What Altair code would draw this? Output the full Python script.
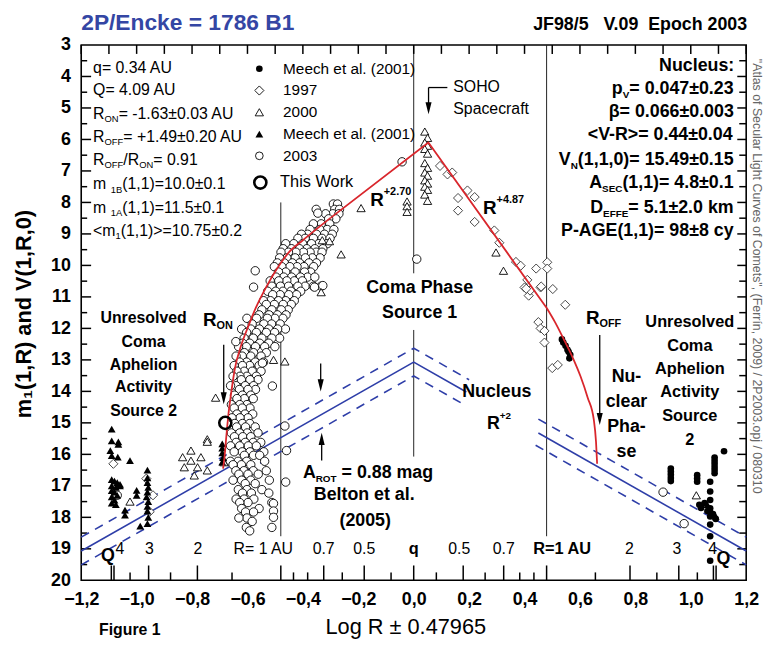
import math
import altair as alt
import pandas as pd

# ---------------- values ----------------
XTICKS = [-1.2, -1.0, -0.8, -0.6, -0.4, -0.2, 0.0, 0.2, 0.4, 0.6, 0.8, 1.0, 1.2]
YTICKS = list(range(3, 21))

# 2003 observations (small open circles): one row per magnitude level
c2003_mag = [8.05, 8.22, 8.36, 8.52, 8.68, 8.86, 9.01, 9.14, 9.31, 9.47, 9.58, 9.76, 9.92, 10.04,
             10.21, 10.37, 10.49, 10.66, 10.82, 10.93, 11.12, 11.24, 11.41, 11.57, 11.68, 11.86,
             12.02, 12.13, 12.31, 12.47, 12.58, 12.77, 12.88, 13.07, 13.18, 13.36, 13.52, 13.63,
             13.82, 13.94, 14.12, 14.23, 14.42, 14.53, 14.72, 14.84, 15.02, 15.13, 15.32, 15.44,
             15.62, 15.73, 15.92, 16.03, 16.22, 16.33, 16.52, 16.63, 16.82, 16.93, 17.12, 17.23,
             17.42, 17.53, 17.72, 17.83, 18.02, 18.13, 18.32, 18.43]
c2003_logr = [
    [-0.29, -0.275], [-0.285, -0.268, -0.352], [-0.292, -0.27, -0.318], [-0.281, -0.307],
    [-0.303, -0.334, -0.362], [-0.312, -0.339, -0.374, -0.288], [-0.322, -0.351, -0.383, -0.405, -0.294],
    [-0.331, -0.362, -0.392, -0.418, -0.302], [-0.343, -0.369, -0.401, -0.433, -0.462, -0.312],
    [-0.328, -0.357, -0.386, -0.412, -0.441, -0.471], [-0.352, -0.374, -0.398, -0.425, -0.452, -0.479, -0.331],
    [-0.338, -0.366, -0.391, -0.428, -0.458, -0.484], [-0.351, -0.378, -0.412, -0.438, -0.467, -0.492],
    [-0.361, -0.396, -0.421, -0.447, -0.476, -0.503], [-0.372, -0.394, -0.428, -0.462, -0.488],
    [-0.383, -0.409, -0.441, -0.469, -0.497, -0.357], [-0.402, -0.431, -0.458, -0.487, -0.518],
    [-0.392, -0.418, -0.452, -0.481, -0.512, -0.362, -0.334], [-0.408, -0.443, -0.472, -0.498, -0.527],
    [-0.423, -0.451, -0.482, -0.509], [-0.431, -0.462, -0.488, -0.517, -0.542], [-0.442, -0.471, -0.503, -0.532],
    [-0.453, -0.478, -0.512, -0.548], [-0.461, -0.492, -0.522, -0.558], [-0.472, -0.501, -0.528, -0.567, -0.602],
    [-0.482, -0.513, -0.541, -0.583], [-0.463, -0.491, -0.523, -0.557, -0.588, -0.621],
    [-0.502, -0.532, -0.568, -0.603], [-0.484, -0.512, -0.548, -0.579, -0.612], [-0.523, -0.556, -0.592, -0.618],
    [-0.501, -0.538, -0.571, -0.604, -0.632], [-0.532, -0.578, -0.611], [-0.551, -0.588, -0.619, -0.641],
    [-0.542, -0.572, -0.603, -0.628], [-0.558, -0.592, -0.618, -0.648], [-0.551, -0.583, -0.612, -0.638],
    [-0.568, -0.602, -0.627, -0.652], [-0.562, -0.591, -0.622], [-0.578, -0.608, -0.641, -0.661],
    [-0.571, -0.598, -0.629], [-0.588, -0.618, -0.647], [-0.579, -0.611, -0.638], [-0.602, -0.628, -0.658],
    [-0.591, -0.619, -0.648], [-0.609, -0.638, -0.581], [-0.598, -0.627, -0.656], [-0.618, -0.592, -0.646],
    [-0.607, -0.639, -0.572], [-0.601, -0.628, -0.658, -0.562], [-0.617, -0.588, -0.647],
    [-0.608, -0.641, -0.579, -0.552], [-0.597, -0.628, -0.661, -0.568], [-0.619, -0.591, -0.648, -0.541],
    [-0.611, -0.578, -0.556], [-0.603, -0.634, -0.662, -0.538], [-0.622, -0.652, -0.588],
    [-0.613, -0.642, -0.579, -0.532], [-0.598, -0.631, -0.561], [-0.621, -0.652, -0.588, -0.521],
    [-0.608, -0.572], [-0.602, -0.633, -0.548], [-0.618, -0.586, -0.523],
    [-0.612, -0.641, -0.577], [-0.598, -0.628, -0.512], [-0.621, -0.558],
    [-0.607, -0.578], [-0.602, -0.631], [-0.583], [-0.604, -0.512], [-0.592]]
c2003_extra_x = [-0.465, -0.459, -0.462, -0.572, -0.578, -0.346, -0.042, 0.011, -0.506, -0.506,
                 -0.506, 0.90, 0.976, -1.07, -0.642, -0.546, -0.51, -0.358, -0.328]
c2003_extra_y = [15.1, 15.88, 16.88, 10.17, 10.69, 8.34, 6.71, 9.8, 17.56, 17.8, 18.0, 17.2,
                 18.2, 17.3, 12.42, 13.1, 13.83, 10.69, 10.64]

# 1997 (open diamonds)
d1997_x = [0.095, 0.122, 0.139, 0.16, 0.16, 0.194, 0.22, 0.22, 0.291, 0.309, 0.369, 0.386, 0.41,
           0.40, 0.415, 0.42, 0.442, 0.458, 0.482, 0.482, 0.502, 0.547, 0.45, 0.458, 0.472, 0.472,
           0.50, 0.52, 0.406, 0.46, -1.084, -0.965, -0.941, -0.953]
d1997_y = [6.84, 7.11, 7.05, 7.86, 8.26, 7.62, 7.83, 8.62, 8.89, 9.28, 9.89, 10.01, 10.46, 10.7,
           10.96, 10.8, 10.1, 10.7, 9.9, 10.1, 10.75, 11.25, 11.8, 12.0, 12.08, 12.45, 13.26, 13.16,
           10.74, 10.67, 16.3, 16.77, 17.3, 17.82]

# 2000 (open triangles)
t2000_x = [0.04, 0.05, 0.04, 0.05, 0.04, 0.05, 0.04, 0.05, 0.04, 0.05, 0.04, 0.05, 0.04, 0.05,
           0.04, 0.05, -0.024, -0.024, -0.024, 0.297, 0.324, -0.19, -0.262, -0.304, -0.334, -0.33,
           -0.506, -0.465, -0.715, -0.745, -0.745, -0.804, -0.834, -0.768, -0.804, -0.828, -0.78,
           -0.745, -0.792, -0.685, -1.024, 1.02]
t2000_y = [5.75, 5.95, 6.1, 6.2, 6.3, 6.45, 6.75, 6.9, 7.05, 7.15, 7.3, 7.4, 7.5, 7.6, 7.75, 7.95,
           7.97, 8.12, 8.3, 9.59, 10.17, 8.18, 9.65, 9.23, 10.85, 9.2, 13.0, 13.05, 14.2, 15.52,
           15.6, 15.88, 16.09, 16.09, 16.2, 16.41, 16.41, 16.51, 16.67, 16.25, 17.5, 17.3]

# Meech et al. (2001), filled triangles
mtri_x = [-1.09, -1.09, -1.066, -1.066, -1.095, -1.068, -1.024, -1.09, -1.09, -1.08, -1.07, -1.09,
          -1.075, -1.09, -1.08, -1.07, -1.09, -1.08, -1.09, -1.075, -1.06, -1.06, -0.961, -0.961,
          -0.961, -0.958, -0.961, -0.964, -0.958, -0.961, -0.961, -0.958, -0.961, -1.0, -1.0,
          -1.042, -1.042, -0.987, -0.691, -0.691, -0.691, -0.688, -0.691, 1.06, 1.09, 1.075]
mtri_y = [15.2, 15.57, 15.6, 15.68, 15.88, 16.09, 16.2, 16.04, 16.8, 16.85, 16.9, 17.0, 17.05, 17.15,
          17.2, 17.3, 17.35, 17.45, 17.55, 17.6, 17.0, 16.95, 16.5, 16.75, 16.9, 17.05, 17.2, 17.35,
          17.5, 17.65, 17.8, 18.0, 18.2, 17.14, 17.3, 17.77, 17.93, 18.28, 15.67, 15.8, 15.95, 16.1,
          16.25, 17.6, 17.97, 17.8]

# Meech et al. (2001), filled circles
mdot_x = [0.535, 0.54, 0.548, 0.555, 0.559, 0.565, 0.562, 0.928, 0.928, 0.928, 0.928, 0.928, 1.023,
          1.023, 1.023, 1.031, 1.037, 1.086, 1.086, 1.086, 1.086, 1.086, 1.086, 1.07, 1.07, 1.07,
          1.07, 1.07, 1.07, 1.07, 1.07, 1.05, 1.06, 1.08, 1.09, 1.12]
mdot_y = [12.35, 12.45, 12.55, 12.68, 12.74, 12.84, 12.95, 16.45, 16.55, 16.65, 16.75, 16.85, 16.66,
          16.77, 16.87, 17.6, 17.7, 16.1, 16.2, 16.3, 16.4, 16.5, 16.6, 16.87, 17.18, 17.45, 17.71,
          17.97, 18.23, 18.6, 19.38, 17.55, 17.8, 17.9, 18.05, 15.9]

this_work_x = [-0.68]
this_work_y = [15.0]

# fitted envelope (red) and nucleus line (blue) vertices
red_left_x = [-0.688, -0.683, -0.676, -0.669, -0.658, -0.646, -0.625, -0.600, -0.570, -0.530,
              -0.493, -0.45, -0.40, -0.35, -0.30]
red_left_y = [16.45, 16.1, 15.4, 14.75, 14.0, 13.3, 12.6, 12.0, 11.35, 10.65, 10.1, 9.58, 9.2,
              8.84, 8.49]
red_mid_x = [-0.30, 0.053, 0.48]
red_mid_y = [8.49, 6.10, 11.35]
red_right_x = [0.48, 0.51, 0.543, 0.575, 0.602, 0.628, 0.65, 0.658, 0.662]
red_right_y = [11.35, 11.8, 12.37, 12.95, 13.52, 14.2, 14.9, 15.6, 16.3]

nuc_seg = ["a", "a", "a", "b", "b"]
nuc_x = [-1.2, 0.0, 0.19, 0.45, 1.2]
nuc_y = [19.07, 13.07, 14.02, 15.32, 19.07]
nuc_up_x = [-1.2, 0.0, 0.20, 0.45, 1.2]
nuc_up_y = [18.63, 12.63, 13.63, 14.88, 18.63]
nuc_lo_x = [-1.2, 0.0, 0.19, 0.44, 1.2]
nuc_lo_y = [19.51, 13.51, 14.46, 15.71, 19.51]

# vertical reference lines: (log R, top mag, bottom mag)
ref_x = [-0.47965, 0.0, 0.0, 0.47965]
ref_top = [8.0, 3.0, 12.05, 3.0]
ref_bot = [18.6, 10.25, 16.07, 18.6]

# heliocentric-distance scale along the bottom
R_long = [4.0, 3.0, 2.0, 1.0, 0.7, 0.5, 4.09]
R_short = [3.5, 2.5, 1.5, 0.9, 0.8, 0.6, 0.4]
LOGQ = 0.47965

# texts
TITLE = "2P/Encke = 1786 B1"
CODE = "JF98/5\u00a0\u00a0\u00a0V.09\u00a0\u00a0Epoch 2003"
LEFT_BLOCK = [
    [("q= 0.34 AU", "n")],
    [("Q= 4.09 AU", "n")],
    [("R", "n"), ("ON", "sub"), ("= -1.63±0.03 AU", "n")],
    [("R", "n"), ("OFF", "sub"), ("= +1.49±0.20 AU", "n")],
    [("R", "n"), ("OFF", "sub"), ("/R", "n"), ("ON", "sub"), ("= 0.91", "n")],
    [("m ", "n"), ("1B", "sub"), ("(1,1)=10.0±0.1", "n")],
    [("m ", "n"), ("1A", "sub"), ("(1,1)=11.5±0.1", "n")],
    [("<m", "n"), ("1", "sub"), ("(1,1)>=10.75±0.2", "n")],
]
RIGHT_BLOCK = [
    [("Nucleus:", "n")],
    [("p", "n"), ("V", "sub"), ("= 0.047±0.23", "n")],
    [("β= 0.066±0.003", "n")],
    [("<V-R>= 0.44±0.04", "n")],
    [("V", "n"), ("N", "sub"), ("(1,1,0)= 15.49±0.15", "n")],
    [("A", "n"), ("SEC", "sub"), ("(1,1)= 4.8±0.1", "n")],
    [("D", "n"), ("EFFE", "sub"), ("= 5.1±2.0 km", "n")],
    [("P-AGE(1,1)= 98±8 cy", "n")],
]
LEGEND = ["Meech et al. (2001)", "1997", "2000", "Meech et al. (2001)", "2003", "This Work"]
UNRES_L = ["Unresolved", "Coma", "Aphelion", "Activity", "Source 2"]
UNRES_R = ["Unresolved", "Coma", "Aphelion", "Activity", "Source", "2"]
NUCLEAR = ["Nu-", "clear", "Pha-", "se"]
SIDE = "\"Atlas of Secular Light Curves of Comets\", (Ferrín, 2009) / 2P2003.opj / 080310"

# ---------------- layout / style ----------------
LEFT, TOP, W, H = 82, 42, 672, 541
FONT = "Liberation Sans, Arial, Helvetica, sans-serif"
NARROW = "Liberation Sans Narrow, Arial Narrow, Liberation Sans, sans-serif"
BLUE = "#2e3ea8"
RED = "#d9262c"

REG_W = {' ': .278, '"': .355, '(': .333, ')': .333, '+': .584, ',': .278, '-': .333, '.': .278,
         '/': .278, ':': .278, '<': .584, '=': .584, '>': .584, '±': .584, 'β': .575,
         'A': .667, 'B': .667, 'C': .722, 'D': .722, 'E': .667, 'F': .611, 'N': .722, 'O': .778,
         'P': .667, 'Q': .778, 'R': .722, 'S': .667, 'T': .611, 'U': .722, 'V': .667,
         'a': .556, 'c': .5, 'e': .556, 'f': .278, 'g': .556, 'i': .222, 'k': .5, 'l': .222,
         'm': .833, 'r': .333, 's': .5, 't': .278, 'v': .5, 'y': .5}
BOLD_W = {' ': .278, '(': .333, ')': .333, '+': .584, ',': .278, '-': .333, '.': .278, '/': .278,
          ':': .333, '<': .584, '=': .584, '>': .584, '±': .584, 'β': .6,
          'A': .722, 'B': .722, 'C': .722, 'D': .722, 'E': .667, 'F': .611, 'G': .778, 'N': .722,
          'O': .778, 'P': .667, 'R': .722, 'S': .667, 'T': .611, 'V': .667,
          'a': .556, 'c': .556, 'e': .556, 'g': .611, 'k': .556, 'l': .278, 'm': .889, 'p': .611,
          'r': .389, 's': .556, 'u': .611, 'y': .556}


def tw(s, size, bold):
    tab = BOLD_W if bold else REG_W
    return size * sum(tab.get(ch, 0.556) for ch in s)


XS = alt.Scale(domain=[-1.2, 1.2], nice=False, zero=False)
YS = alt.Scale(domain=[3, 20], reverse=True, nice=False, zero=False)
XAX = alt.Axis(values=XTICKS, labelExpr="replace(format(datum.value, '.1f'), '.', ',')",
               ticks=False, domain=False, grid=False, title=None, labelFont=NARROW,
               labelFontSize=18, labelFontWeight="bold", labelColor="black", labelPadding=10,
               labelFlush=False, labelOverlap=False)
YAX = alt.Axis(values=YTICKS, ticks=False, domain=False, grid=False, title=None, labelFont=FONT,
               labelFontSize=18, labelFontWeight="bold", labelColor="black", labelPadding=11,
               labelOverlap=False)


def X(f="x"):
    return alt.X(f"{f}:Q", scale=XS, axis=XAX)


def Y(f="y"):
    return alt.Y(f"{f}:Q", scale=YS, axis=YAX)


def text_layer(rows, size, bold=False, align="left", color="black", font=FONT, angle=0):
    df = pd.DataFrame(rows, columns=["t", "px", "py"])
    df["px"] = df["px"] - LEFT
    df["py"] = df["py"] - TOP
    kw = dict(align=align, baseline="middle", fontSize=size,
              fontWeight="bold" if bold else "normal", color=color, font=font)
    if angle:
        kw["angle"] = angle
    return alt.Chart(df).mark_text(**kw).encode(
        x=alt.X("px:Q", scale=None, axis=None), y=alt.Y("py:Q", scale=None, axis=None), text="t:N")


def rich(lines, Xp, Ys, size, bold, align, subsize):
    normal, small = [], []
    for parts, Yp in zip(lines, Ys):
        widths = [tw(t, size if k == "n" else subsize, bold) for t, k in parts]
        total = sum(widths)
        x0 = Xp if align == "left" else (Xp - total if align == "right" else Xp - total / 2)
        for (t, k), w in zip(parts, widths):
            lead = len(t) - len(t.lstrip(" "))
            s = t.strip(" ")
            xs = x0 + tw(" " * lead, size if k == "n" else subsize, bold)
            if k == "n":
                normal.append((s, xs, Yp))
            elif k == "sub":
                small.append((s, xs, Yp + 0.33 * size))
            else:
                small.append((s, xs, Yp - 0.42 * size))
            x0 += w
    out = [text_layer(normal, size, bold)]
    if small:
        out.append(text_layer(small, subsize, bold))
    return out


def pts(xs, ys, shape, size, filled, stroke="black", sw=0.9, fill="white"):
    df = pd.DataFrame({"x": xs, "y": ys})
    if filled:
        m = alt.Chart(df).mark_point(shape=shape, size=size, filled=True, color=stroke, opacity=1)
    else:
        m = alt.Chart(df).mark_point(shape=shape, size=size, filled=True, fill=fill,
                                     stroke=stroke, strokeWidth=sw, opacity=1, fillOpacity=1)
    return m.encode(x=X(), y=Y())


def px_point(Xp, Yp, shape, size, filled, sw=0.9, fill="white"):
    df = pd.DataFrame({"px": [Xp - LEFT], "py": [Yp - TOP]})
    if filled:
        m = alt.Chart(df).mark_point(shape=shape, size=size, filled=True, color="black", opacity=1)
    else:
        m = alt.Chart(df).mark_point(shape=shape, size=size, filled=True, fill=fill, stroke="black",
                                     strokeWidth=sw, opacity=1, fillOpacity=1)
    return m.encode(x=alt.X("px:Q", scale=None, axis=None), y=alt.Y("py:Q", scale=None, axis=None))


def px_rule(x1, y1, x2, y2, sw=1.3):
    df = pd.DataFrame({"a": [x1 - LEFT], "b": [y1 - TOP], "c": [x2 - LEFT], "d": [y2 - TOP]})
    return alt.Chart(df).mark_rule(color="black", strokeWidth=sw).encode(
        x=alt.X("a:Q", scale=None, axis=None), y=alt.Y("b:Q", scale=None, axis=None),
        x2="c:Q", y2="d:Q")


def line(xs, ys, color, dash=None, interp="linear", sw=1.6, seg=None):
    df = pd.DataFrame({"x": xs, "y": ys, "i": list(range(len(xs)))})
    kw = dict(color=color, strokeWidth=sw, interpolate=interp)
    if dash:
        kw["strokeDash"] = dash
    enc = dict(x=X(), y=Y(), order="i:Q")
    if seg is not None:
        df["s"] = seg
        enc["detail"] = "s:N"
    return alt.Chart(df).mark_line(**kw).encode(**enc)


ARROW_DOWN = "M -0.5 -1 L 0.5 -1 L 0 1 Z"
ARROW_UP = "M -0.5 1 L 0.5 1 L 0 -1 Z"

layers = []

# reference vertical lines
refs = pd.DataFrame({"x": ref_x, "y": ref_top, "y2": ref_bot})
layers.append(alt.Chart(refs).mark_rule(color="#222", strokeWidth=1).encode(x=X(), y=Y(), y2="y2:Q"))

# axis ticks (inward)
top_ticks = pd.DataFrame({"x": [round(-1.2 + 0.1 * k, 2) for k in range(25)]})
layers.append(alt.Chart(top_ticks).mark_rule(color="black", strokeWidth=1.5).encode(
    x=X(), y=alt.value(0), y2=alt.value(9)))
maj = pd.DataFrame({"y": [float(v) for v in range(4, 20)]})
mnr = pd.DataFrame({"y": [v + 0.5 for v in range(3, 20)]})
layers.append(alt.Chart(maj).mark_rule(color="black", strokeWidth=1.5).encode(
    y=Y(), x=alt.value(0), x2=alt.value(10)))
layers.append(alt.Chart(mnr).mark_rule(color="black", strokeWidth=1.5).encode(
    y=Y(), x=alt.value(0), x2=alt.value(6)))
layers.append(alt.Chart(maj).mark_rule(color="black", strokeWidth=1.5).encode(
    y=Y(), x=alt.value(W), x2=alt.value(W - 9)))
layers.append(alt.Chart(mnr).mark_rule(color="black", strokeWidth=1.5).encode(
    y=Y(), x=alt.value(W), x2=alt.value(W - 7)))
long_x = [s * (math.log10(r) + LOGQ) for r in R_long for s in (-1, 1)] + [0.0]
short_x = [s * (math.log10(r) + LOGQ) for r in R_short for s in (-1, 1)]
layers.append(alt.Chart(pd.DataFrame({"x": long_x})).mark_rule(color="black", strokeWidth=1.5).encode(
    x=X(), y=alt.value(H), y2=alt.value(H - 15)))
layers.append(alt.Chart(pd.DataFrame({"x": short_x})).mark_rule(color="black", strokeWidth=1.5).encode(
    x=X(), y=alt.value(H), y2=alt.value(H - 8)))

# nucleus lines
layers.append(line(nuc_x, nuc_y, BLUE, seg=nuc_seg))
layers.append(line(nuc_up_x, nuc_up_y, BLUE, dash=[9, 7], seg=nuc_seg))
layers.append(line(nuc_lo_x, nuc_lo_y, BLUE, dash=[9, 7], seg=nuc_seg))

# observations
c_x, c_y = [], []
for m, xs in zip(c2003_mag, c2003_logr):
    for xv in xs:
        c_x.append(xv)
        c_y.append(m)
c_x += c2003_extra_x
c_y += c2003_extra_y
layers.append(pts(c_x, c_y, "circle", 72, False))
layers.append(pts(d1997_x, d1997_y, "diamond", 85, False, stroke="#333"))
layers.append(pts(t2000_x, t2000_y, "triangle-up", 70, False))
layers.append(pts(mtri_x, mtri_y, "triangle-up", 62, True))
layers.append(pts(mdot_x, mdot_y, "circle", 45, True))

# envelope
layers.append(line(red_left_x, red_left_y, RED, interp="monotone", sw=1.8))
layers.append(line(red_mid_x, red_mid_y, RED, sw=1.8))
layers.append(line(red_right_x, red_right_y, RED, interp="monotone", sw=1.8))

# this work
tw_df = pd.DataFrame({"x": this_work_x, "y": this_work_y})
layers.append(alt.Chart(tw_df).mark_point(shape="circle", size=150, filled=False, color="black",
                                           strokeWidth=2.6, opacity=1).encode(x=X(), y=Y()))

# ---------------- annotations ----------------
layers.append(text_layer([(TITLE, 82, 20)], 23, True, color="#3446a4"))
layers.append(text_layer([(CODE, 755, 22)], 18, True, align="right"))
layers.append(text_layer([("m\u2081(1,R) and V(1,R,0)", 24, 314)], 22, True, align="center", angle=270))
layers.append(text_layer([(SIDE, 765, 56)], 12.5, False, color="#666", angle=90))
layers.append(text_layer([("Log R ± 0.47965", 410, 630)], 22, False, align="center", font=NARROW))
layers.append(text_layer([("Figure 1", 100, 633)], 16, True, font=NARROW))

layers += rich(LEFT_BLOCK, 94, [65, 88, 112, 135, 158, 183, 207, 230], 16, False, "left", 9.5)
layers += rich(RIGHT_BLOCK, 742, [63, 87, 110, 133, 158, 182, 207, 230], 18, True, "right", 10)

# legend
leg_y = [66, 88, 110, 132, 154, 181]
layers.append(px_point(262, leg_y[0], "circle", 45, True))
layers.append(px_point(262, leg_y[1], "diamond", 85, False))
layers.append(px_point(262, leg_y[2], "triangle-up", 70, False))
layers.append(px_point(262, leg_y[3], "triangle-up", 62, True))
layers.append(px_point(262, leg_y[4], "circle", 60, False))
layers.append(alt.Chart(pd.DataFrame({"px": [263 - LEFT], "py": [leg_y[5] - TOP]})).mark_point(
    shape="circle", size=150, filled=False, color="black", strokeWidth=2.6, opacity=1).encode(
    x=alt.X("px:Q", scale=None, axis=None), y=alt.Y("py:Q", scale=None, axis=None)))
layers.append(text_layer([(t, 286, yy) for t, yy in zip(LEGEND[:5], leg_y[:5])], 15.5))
layers.append(text_layer([(LEGEND[5], 283, leg_y[5])], 16.5))

# SOHO
layers.append(text_layer([("SOHO", 458, 85), ("Spacecraft", 458, 107)], 16))
layers.append(px_rule(433, 85, 452, 85))
layers.append(px_rule(433, 85, 433, 104))
layers.append(px_point(433, 106, ARROW_DOWN, 150, True))

# power-law labels
layers += rich([[("R", "n"), ("+2.70", "sup")]], 374, [199], 19, True, "left", 11)
layers += rich([[("R", "n"), ("+4.87", "sup")]], 488, [207], 19, True, "left", 11)
layers += rich([[("R", "n"), ("+2", "sup")]], 492, [425], 18, True, "left", 10)
layers.append(text_layer([("Coma Phase", 424, 288), ("Source 1", 424, 313), ("Nucleus", 502, 393),
                          ("Belton et al.", 368, 497), ("(2005)", 369, 523)], 18, True, align="center"))
layers += rich([[("A", "n"), ("ROT", "sub"), (" = 0.88 mag", "n")]], 306, [475], 18, True, "left", 10)
layers += rich([[("R", "n"), ("ON", "sub")]], 205, [320], 19, True, "left", 11)
layers += rich([[("R", "n"), ("OFF", "sub")]], 592, [318], 19, True, "left", 11)
layers.append(text_layer([(t, 633, yy) for t, yy in zip(NUCLEAR, [378, 403, 428, 453])], 18, True,
                         align="center"))
layers.append(text_layer([(t, 145, yy) for t, yy in zip(UNRES_L, [318, 342, 365, 388, 412])], 16,
                         True, align="center"))
layers.append(text_layer([(t, 697, yy) for t, yy in zip(UNRES_R, [322, 346, 369, 393, 417, 441])],
                         16.5, True, align="center"))

# arrows
layers.append(px_rule(226, 345, 226, 396))
layers.append(px_point(226, 399, ARROW_DOWN, 150, True))
layers.append(px_rule(324, 364, 324, 383))
layers.append(px_point(324, 386, ARROW_DOWN, 150, True))
layers.append(px_rule(325, 443, 325, 462))
layers.append(px_point(325, 440, ARROW_UP, 150, True))
layers.append(px_rule(606, 335, 606, 417))
layers.append(px_point(606, 420, ARROW_DOWN, 150, True))

# distance scale labels
layers.append(text_layer([("4", 121, 551), ("3", 151, 551), ("2", 200, 551), ("R= 1 AU", 266, 551),
                          ("0.7", 327, 551), ("0.5", 368, 551), ("0.5", 464, 551), ("0.7", 509, 551),
                          ("2", 636, 551), ("3", 684, 551), ("4", 720, 551)], 16, False,
                         align="center"))
layers.append(text_layer([("q", 418, 551), ("R=1 AU", 568, 551)], 16.5, True, align="center"))
layers.append(text_layer([("Q", 109, 558), ("Q", 731, 562)], 18, True, align="center"))

chart = alt.layer(*layers).properties(
    width=W, height=H,
    padding={"left": 74, "top": 34, "right": 18, "bottom": 63},
    autosize=alt.AutoSizeParams(type="none"),
    background="white",
).configure_view(stroke="black", strokeWidth=1.6)

chart.save("out.html", embed_options={"renderer": "svg", "actions": False})
